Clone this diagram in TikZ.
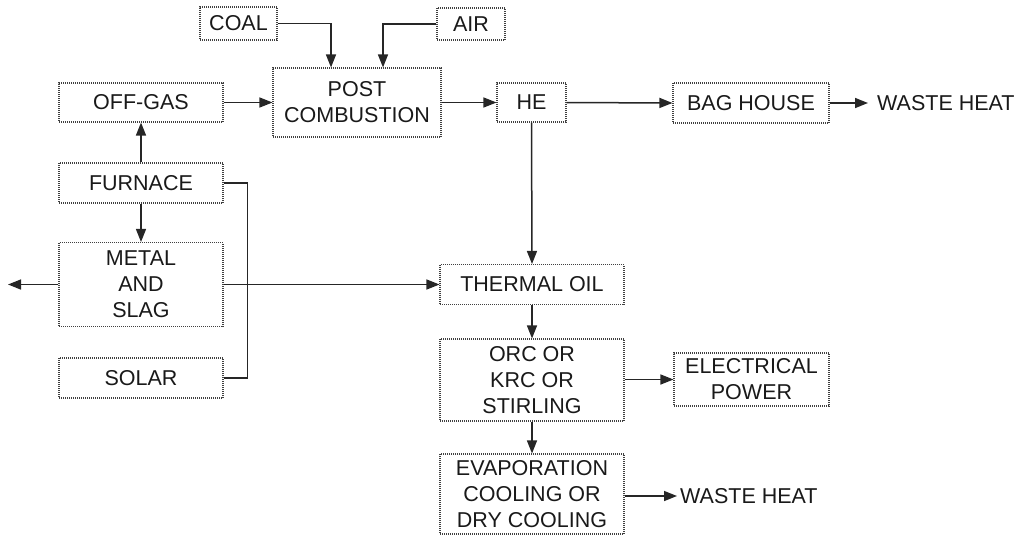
\documentclass[tikz,border=0pt]{standalone}
\usepackage{fontspec}
\setmainfont{Liberation Sans}
\usetikzlibrary{arrows.meta}
\begin{document}
\begin{tikzpicture}[x=1pt,y=-1pt,
  box/.style={draw=black!75, line width=1.1pt, dash pattern=on 1pt off 1pt,
    inner sep=0pt, align=center, font=\fontsize{21.5}{26}\selectfont, text=black!90},
  lbl/.style={inner sep=0pt, anchor=west, font=\fontsize{21.5}{26}\selectfont, text=black!90},
  conn/.style={line width=1.5pt, black!85, -{Triangle[length=13pt,width=10pt]}},
  plain/.style={line width=1.5pt, black!85}]
\useasboundingbox (0,0) rectangle (1024,536);
\node[box, minimum width=77, minimum height=33] (coal) at (238.5,23.5) {COAL};
\node[box, minimum width=68, minimum height=32] (air) at (471,24) {AIR};
\node[box, minimum width=168, minimum height=69] (post) at (357,102.5) {POST\\COMBUSTION};
\node[box, minimum width=69, minimum height=39] (he) at (531.5,102.5) {HE};
\node[box, minimum width=164, minimum height=39] (offgas) at (141,102.5) {OFF-GAS};
\node[box, minimum width=156, minimum height=40] (bag) at (751,103) {BAG HOUSE};
\node[lbl] (waste1) at (877,103) {WASTE HEAT};
\node[box, minimum width=164, minimum height=40] (furn) at (141,183) {FURNACE};
\node[box, minimum width=164, minimum height=84] (metal) at (141,284.5) {METAL\\AND\\SLAG};
\node[box, minimum width=164, minimum height=40] (solar) at (141,378) {SOLAR};
\coordinate (leftend) at (8,284.5);
\node[box, minimum width=184, minimum height=40] (oil) at (532,284.5) {THERMAL OIL};
\node[box, minimum width=184, minimum height=82] (orc) at (532,380) {ORC OR\\KRC OR\\STIRLING};
\node[box, minimum width=155, minimum height=53] (elec) at (751.5,379.5) {ELECTRICAL\\POWER};
\node[box, minimum width=184, minimum height=80] (evap) at (532,494) {EVAPORATION\\COOLING OR\\DRY COOLING};
\node[lbl] (waste2) at (680,496) {WASTE HEAT};

\draw[conn] (coal.east) -| ([xshift=-26]post.north);
\draw[conn] (air.west) -| ([xshift=26]post.north);
\draw[conn] (offgas.east) -- (post.west);
\draw[conn] (post.east) -- (he.west);
\draw[conn] (he.east) -- (bag.west);
\draw[conn] (bag.east) -- ([xshift=-9]waste1.west);
\draw[conn] (he.south) -- (oil.north);
\draw[conn] (furn.north) -- (offgas.south);
\draw[conn] (furn.south) -- (metal.north);
\draw[conn] (metal.west) -- (leftend);
\draw[conn] (metal.east) -- (oil.west);
\draw[plain] (furn.east) -- ++(24,0) |- (solar.east);
\draw[conn] (oil.south) -- (orc.north);
\draw[conn] (orc.east |- elec.west) -- (elec.west);
\draw[conn] (orc.south) -- (evap.north);
\draw[conn] (evap.east |- waste2.west) -- ([xshift=-3]waste2.west);
\end{tikzpicture}
\end{document}
